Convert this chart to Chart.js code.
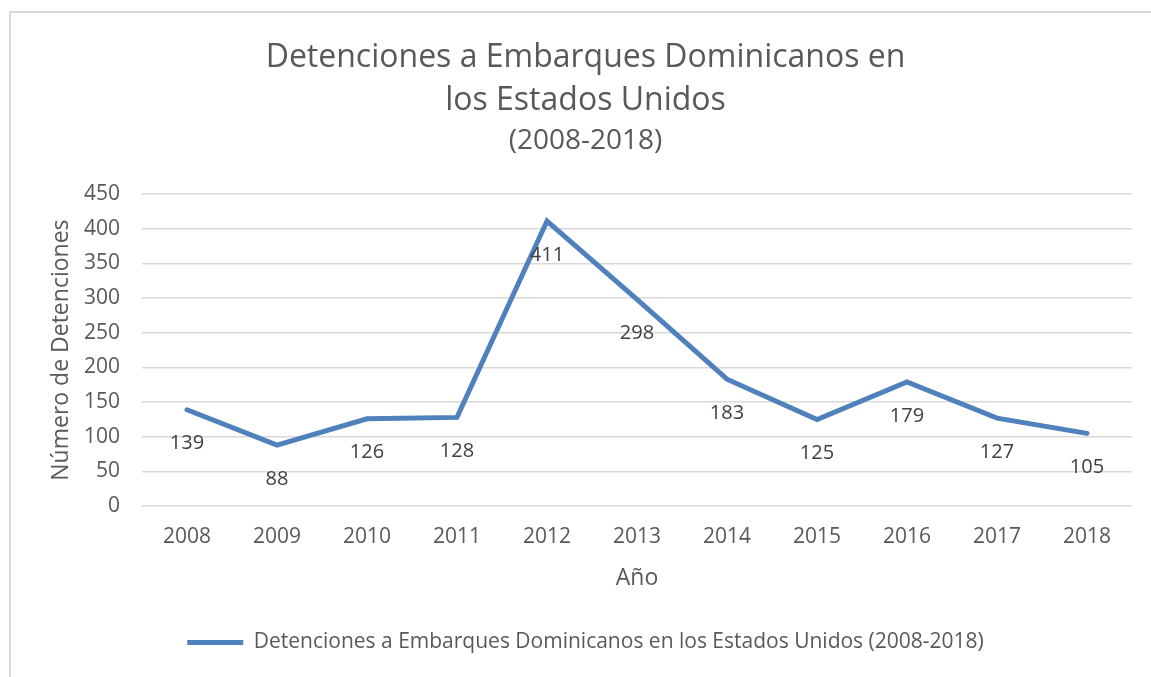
<!DOCTYPE html>
<html>
<head>
<meta charset="utf-8">
<script src="https://cdn.jsdelivr.net/npm/chart.js@4"></script>
<style>
  html, body { margin: 0; padding: 0; background: #fff; }
  #wrap { width: 1151px; height: 677px; }
</style>
</head>
<body>
<div id="wrap"><canvas id="grafico"></canvas></div>
<script>
const anos = ["2008", "2009", "2010", "2011", "2012", "2013", "2014", "2015", "2016", "2017", "2018"];
const detenciones = [139, 88, 126, 128, 411, 298, 183, 125, 179, 127, 105];
const tituloLineas = ["Detenciones a Embarques Dominicanos en", "los Estados Unidos"];
const subtitulo = "(2008-2018)";
const nombreSerie = "Detenciones a Embarques Dominicanos en los Estados Unidos (2008-2018)";

const fuente = "'Open Sans', 'DejaVu Sans', sans-serif";
const gris = "#595959";

// etiquetas de datos debajo de cada punto
const etiquetas = {
    id: "etiquetas",
    afterDatasetsDraw(chart) {
        const ctx = chart.ctx;
        const meta = chart.getDatasetMeta(0);
        ctx.save();
        ctx.font = "20px " + fuente;
        ctx.fillStyle = "#404040";
        ctx.textAlign = "center";
        ctx.textBaseline = "middle";
        meta.data.forEach((p, i) => {
            ctx.fillText(String(detenciones[i]), p.x, p.y + 34);
        });
        ctx.restore();
    }
};

// borde gris del area del grafico
const borde = {
    id: "borde",
    beforeDraw(chart) {
        const ctx = chart.ctx;
        ctx.save();
        ctx.strokeStyle = "#d9d9d9";
        ctx.lineWidth = 2;
        ctx.strokeRect(10, 12, 1200, 800);
        ctx.restore();
    }
};

new Chart(document.getElementById("grafico"), {
    type: "line",
    data: {
        labels: anos,
        datasets: [{
            label: nombreSerie,
            data: detenciones,
            borderColor: "#4f81bd",
            backgroundColor: "#4f81bd",
            borderWidth: 5,
            borderCapStyle: "round",
            borderJoinStyle: "miter",
            pointRadius: 0,
            pointStyle: "line",
            fill: false,
            tension: 0
        }]
    },
    options: {
        responsive: true,
        maintainAspectRatio: false,
        animation: false,
        layout: { padding: { left: 39, right: 19, top: 0, bottom: 14 } },
        plugins: {
            title: {
                display: true,
                text: tituloLineas,
                color: gris,
                font: { family: fuente, size: 32, weight: "normal", lineHeight: 1.35 },
                padding: { top: 36, bottom: 0 }
            },
            subtitle: {
                display: true,
                text: subtitulo,
                color: gris,
                font: { family: fuente, size: 28, weight: "normal", lineHeight: 1.2 },
                padding: { top: 2, bottom: 36 }
            },
            legend: {
                position: "bottom",
                labels: {
                    color: gris,
                    font: { family: fuente, size: 21 },
                    usePointStyle: true,
                    pointStyleWidth: 56,
                    boxHeight: 19,
                    padding: 10
                }
            },
            tooltip: { enabled: false }
        },
        scales: {
            x: {
                offset: true,
                grid: { display: false, drawTicks: false },
                border: { display: false },
                ticks: { color: gris, font: { family: fuente, size: 21 }, padding: 18 },
                title: {
                    display: true, text: "Año", color: gris,
                    font: { family: fuente, size: 23 },
                    padding: { top: -3, bottom: 30 }
                }
            },
            y: {
                min: 0, max: 450,
                ticks: { stepSize: 50, color: gris, font: { family: fuente, size: 21 }, padding: 22 },
                grid: { color: "#d9d9d9", lineWidth: 1.5, drawTicks: false },
                border: { display: false },
                title: {
                    display: true, text: "Número de Detenciones", color: gris,
                    font: { family: fuente, size: 23 },
                    padding: { top: 9, bottom: 0 }
                },
                afterFit(scale) { scale.width = 103; }
            }
        }
    },
    plugins: [etiquetas, borde]
});
</script>
</body>
</html>
